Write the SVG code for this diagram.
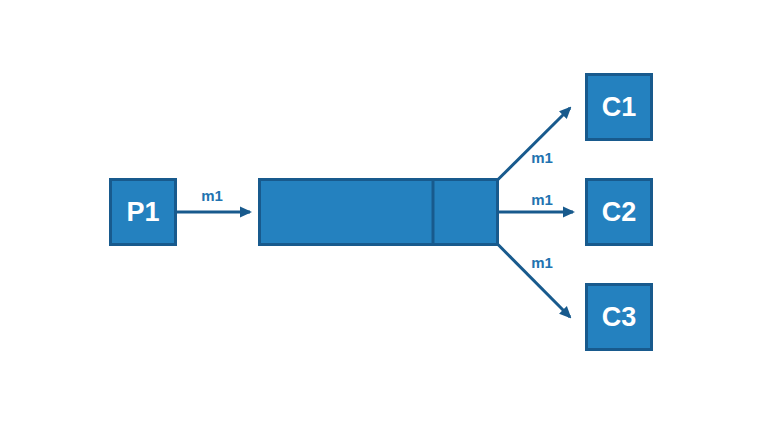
<svg xmlns="http://www.w3.org/2000/svg" width="760" height="424" viewBox="0 0 760 424">
<defs>
<style>
.box{fill:#2481BF;stroke:#185A8D;stroke-width:3}
.nl{font-family:"Liberation Sans",Arial,sans-serif;font-weight:bold;font-size:27px;fill:#fff;text-anchor:middle}
.el{font-family:"Liberation Sans",Arial,sans-serif;font-weight:bold;font-size:15px;fill:#2273B0;text-anchor:middle}
.ln{stroke:#185A8D;stroke-width:3;fill:none}
</style>
<marker id="ah" markerWidth="12" markerHeight="12" refX="10" refY="6" orient="auto" markerUnits="userSpaceOnUse" viewBox="0 0 12 12">
<path d="M0,0.5 L12,6 L0,11.5 Z" fill="#185A8D"/>
</marker>
</defs>
<rect width="760" height="424" fill="#fff"/>
<g id="P1"><rect class="box" x="110.5" y="179.5" width="65" height="65"/><text class="nl" x="143" y="221">P1</text></g>
<g id="queue"><rect class="box" x="259.5" y="179.5" width="238" height="65"/><line class="ln" x1="433" y1="179.5" x2="433" y2="244.5"/></g>
<g id="C1"><rect class="box" x="586.5" y="74.5" width="65" height="65"/><text class="nl" x="619" y="116">C1</text></g>
<g id="C2"><rect class="box" x="586.5" y="179.5" width="65" height="65"/><text class="nl" x="619" y="221">C2</text></g>
<g id="C3"><rect class="box" x="586.5" y="284.5" width="65" height="65"/><text class="nl" x="619" y="326">C3</text></g>
<g id="connectors">
<line class="ln" x1="176" y1="212" x2="250" y2="212" marker-end="url(#ah)"/>
<line class="ln" x1="498" y1="179.5" x2="570" y2="108" marker-end="url(#ah)"/>
<line class="ln" x1="498" y1="212" x2="573" y2="212" marker-end="url(#ah)"/>
<line class="ln" x1="498" y1="244.5" x2="570" y2="317" marker-end="url(#ah)"/>
<text class="el" x="212" y="201">m1</text>
<text class="el" x="542" y="163">m1</text>
<text class="el" x="542" y="205">m1</text>
<text class="el" x="542" y="268">m1</text>
</g>
</svg>
